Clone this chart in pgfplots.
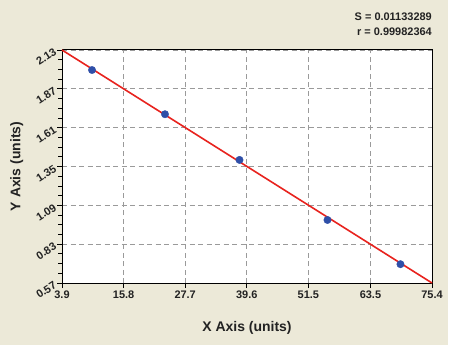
\documentclass[border=0pt]{standalone}
\usepackage{fontspec}
\setmainfont{Liberation Sans}
\usepackage{pgfplots}
\pgfplotsset{compat=1.18}
\definecolor{bgbeige}{HTML}{ECE9D8}
\definecolor{lnred}{HTML}{E8231E}
\definecolor{dotblue}{HTML}{2F4FA8}
\definecolor{gridgray}{HTML}{9A9A9A}
\definecolor{txt}{HTML}{222222}
\begin{document}
\begin{tikzpicture}[x=1bp,y=1bp]
\fill[white] (0,0) rectangle (450,357);
\fill[bgbeige] (0,12) rectangle (448,357);
\begin{axis}[
  at={(62bp,74bp)}, anchor=south west,
  scale only axis, width=370bp, height=233bp,
  xmin=3.9, xmax=75.4, ymin=0.57, ymax=2.13,
  xtick={3.9,15.8,27.7,39.6,51.5,63.5,75.4},
  xticklabels={3.9,15.8,27.7,39.6,51.5,63.5,75.4},
  ytick={0.57,0.83,1.09,1.35,1.61,1.87,2.13},
  yticklabels={0.57,0.83,1.09,1.35,1.61,1.87,2.13},
  minor x tick num=3, minor y tick num=3,
  tick align=outside, tick pos=left,
  major tick length=5bp, minor tick length=4bp,
  every tick/.style={black, line width=0.8bp},
  grid=major,
  major grid style={gridgray, dash pattern=on 5bp off 3.5bp, line width=0.7bp},
  axis background/.style={fill=white},
  axis line style={black, line width=1bp},
  /pgf/number format/assume math mode=true,
  ticklabel style={font=\fontsize{11}{12}\selectfont\bfseries, text=txt},
  xticklabel style={yshift=-1bp, inner sep=2pt},
  yticklabel style={rotate=33, anchor=east, inner sep=2pt},
  xlabel={X Axis (units)}, ylabel={Y Axis (units)},
  label style={font=\fontsize{14}{16}\selectfont\bfseries, text=txt},
  xlabel style={at={(axis description cs:0.5,-0.193)}, anchor=center},
  ylabel style={at={(axis description cs:-0.122,0.5)}, anchor=center},
  clip=false,
]
\addplot[lnred, line width=1.6bp] coordinates {(3.9,2.13) (75.4,0.57)};
\addplot[only marks, mark=*, mark size=3.7bp, dotblue, mark options={draw=dotblue, fill=dotblue}] coordinates {
  (9.7,1.996) (23.8,1.700) (38.2,1.394) (55.2,0.992) (69.3,0.696)};
\end{axis}
\node[anchor=east, font=\fontsize{11}{13}\selectfont\bfseries, text=txt, inner sep=0pt] at (432,340) {S = 0.01133289};
\node[anchor=east, font=\fontsize{11}{13}\selectfont\bfseries, text=txt, inner sep=0pt] at (432,325) {r = 0.99982364};
\end{tikzpicture}
\end{document}
